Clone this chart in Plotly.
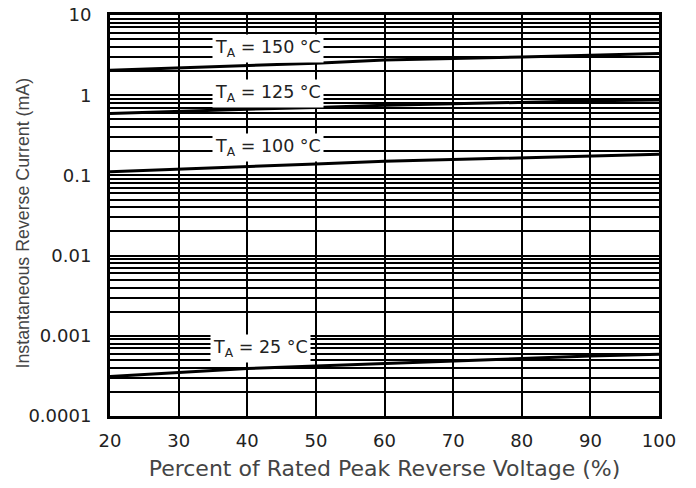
import math
import plotly.graph_objects as go

x_pct = [20, 30, 40, 50, 60, 70, 80, 90, 100]
i_150 = [2.05, 2.2, 2.35, 2.5, 2.75, 2.9, 3.0, 3.15, 3.3]
i_125 = [0.59, 0.63, 0.67, 0.70, 0.75, 0.78, 0.82, 0.85, 0.87]
i_100 = [0.111, 0.119, 0.129, 0.139, 0.150, 0.157, 0.165, 0.174, 0.183]
i_25 = [0.00031, 0.00035, 0.00039, 0.00042, 0.00045, 0.00049, 0.00052, 0.00056, 0.00059]

series = [("150", i_150), ("125", i_125), ("100", i_100), ("25", i_25)]
labels = ["T<sub>A</sub> = 150 °C", "T<sub>A</sub> = 125 °C", "T<sub>A</sub> = 100 °C", "T<sub>A</sub> = 25 °C"]
label_x = [43, 43, 43, 42]
label_y = [3.85, 1.06, 0.22, 0.0007]

x_ticks = [20, 30, 40, 50, 60, 70, 80, 90, 100]
y_major = [0.0001, 0.001, 0.01, 0.1, 1, 10]
y_major_text = ["0.0001", "0.001", "0.01", "0.1", "1", "10"]

x_title = "Percent of Rated Peak Reverse Voltage (%)"
y_title = "Instantaneous Reverse Current (mA)"

y_vals, y_text = [], []
for d, t in zip(y_major, y_major_text):
    y_vals.append(d)
    y_text.append(t)
    if d < 10:
        for m in range(2, 10):
            y_vals.append(d * m)
            y_text.append("")

FONT = "DejaVu Sans, Verdana, sans-serif"
FONT_Y = "Liberation Sans, Arial, Helvetica, sans-serif"

fig = go.Figure()
for name, ys in series:
    fig.add_trace(go.Scatter(x=x_pct, y=ys, mode="lines", name=name,
                             line=dict(color="black", width=3), showlegend=False))

for txt, lx, ly in zip(labels, label_x, label_y):
    fig.add_annotation(x=lx, y=math.log10(ly), yref="y", xref="x", text=txt, showarrow=False,
                       bgcolor="white", borderpad=2,
                       font=dict(family=FONT, size=17.5, color="#222"))

# y-axis title as rotated annotation (centered slightly above plot centre, as in reference)
fig.add_annotation(x=0, y=0.5, xref="paper", yref="paper", text=y_title, textangle=-90,
                   showarrow=False, xanchor="center", yanchor="middle", xshift=-88, yshift=-8,
                   font=dict(family=FONT_Y, size=17.8, color="#444"))

fig.update_layout(
    width=696, height=488,
    margin=dict(l=110, r=37, t=15, b=72),
    paper_bgcolor="white", plot_bgcolor="white",
    font=dict(family=FONT, size=18, color="#222"),
    xaxis=dict(range=[20, 100], tickvals=x_ticks, showgrid=True, gridcolor="black", gridwidth=2,
               showline=True, linecolor="black", linewidth=3, mirror=True, ticks="",
               zeroline=False, automargin=False, ticklabelstandoff=6,
               tickfont=dict(size=18, color="#222"),
               title=dict(text=x_title, standoff=12,
                          font=dict(family=FONT, size=22, color="#444"))),
    yaxis=dict(type="log", range=[-4, 1], tickvals=y_vals, ticktext=y_text,
               showgrid=True, gridcolor="black", gridwidth=1.5,
               showline=True, linecolor="black", linewidth=3, mirror=True, ticks="",
               zeroline=False, automargin=False, ticklabelstandoff=12,
               tickfont=dict(size=18, color="#222")),
)

fig.write_html("out.html", config={"displayModeBar": False},
               post_script="document.body.style.margin='0';")
